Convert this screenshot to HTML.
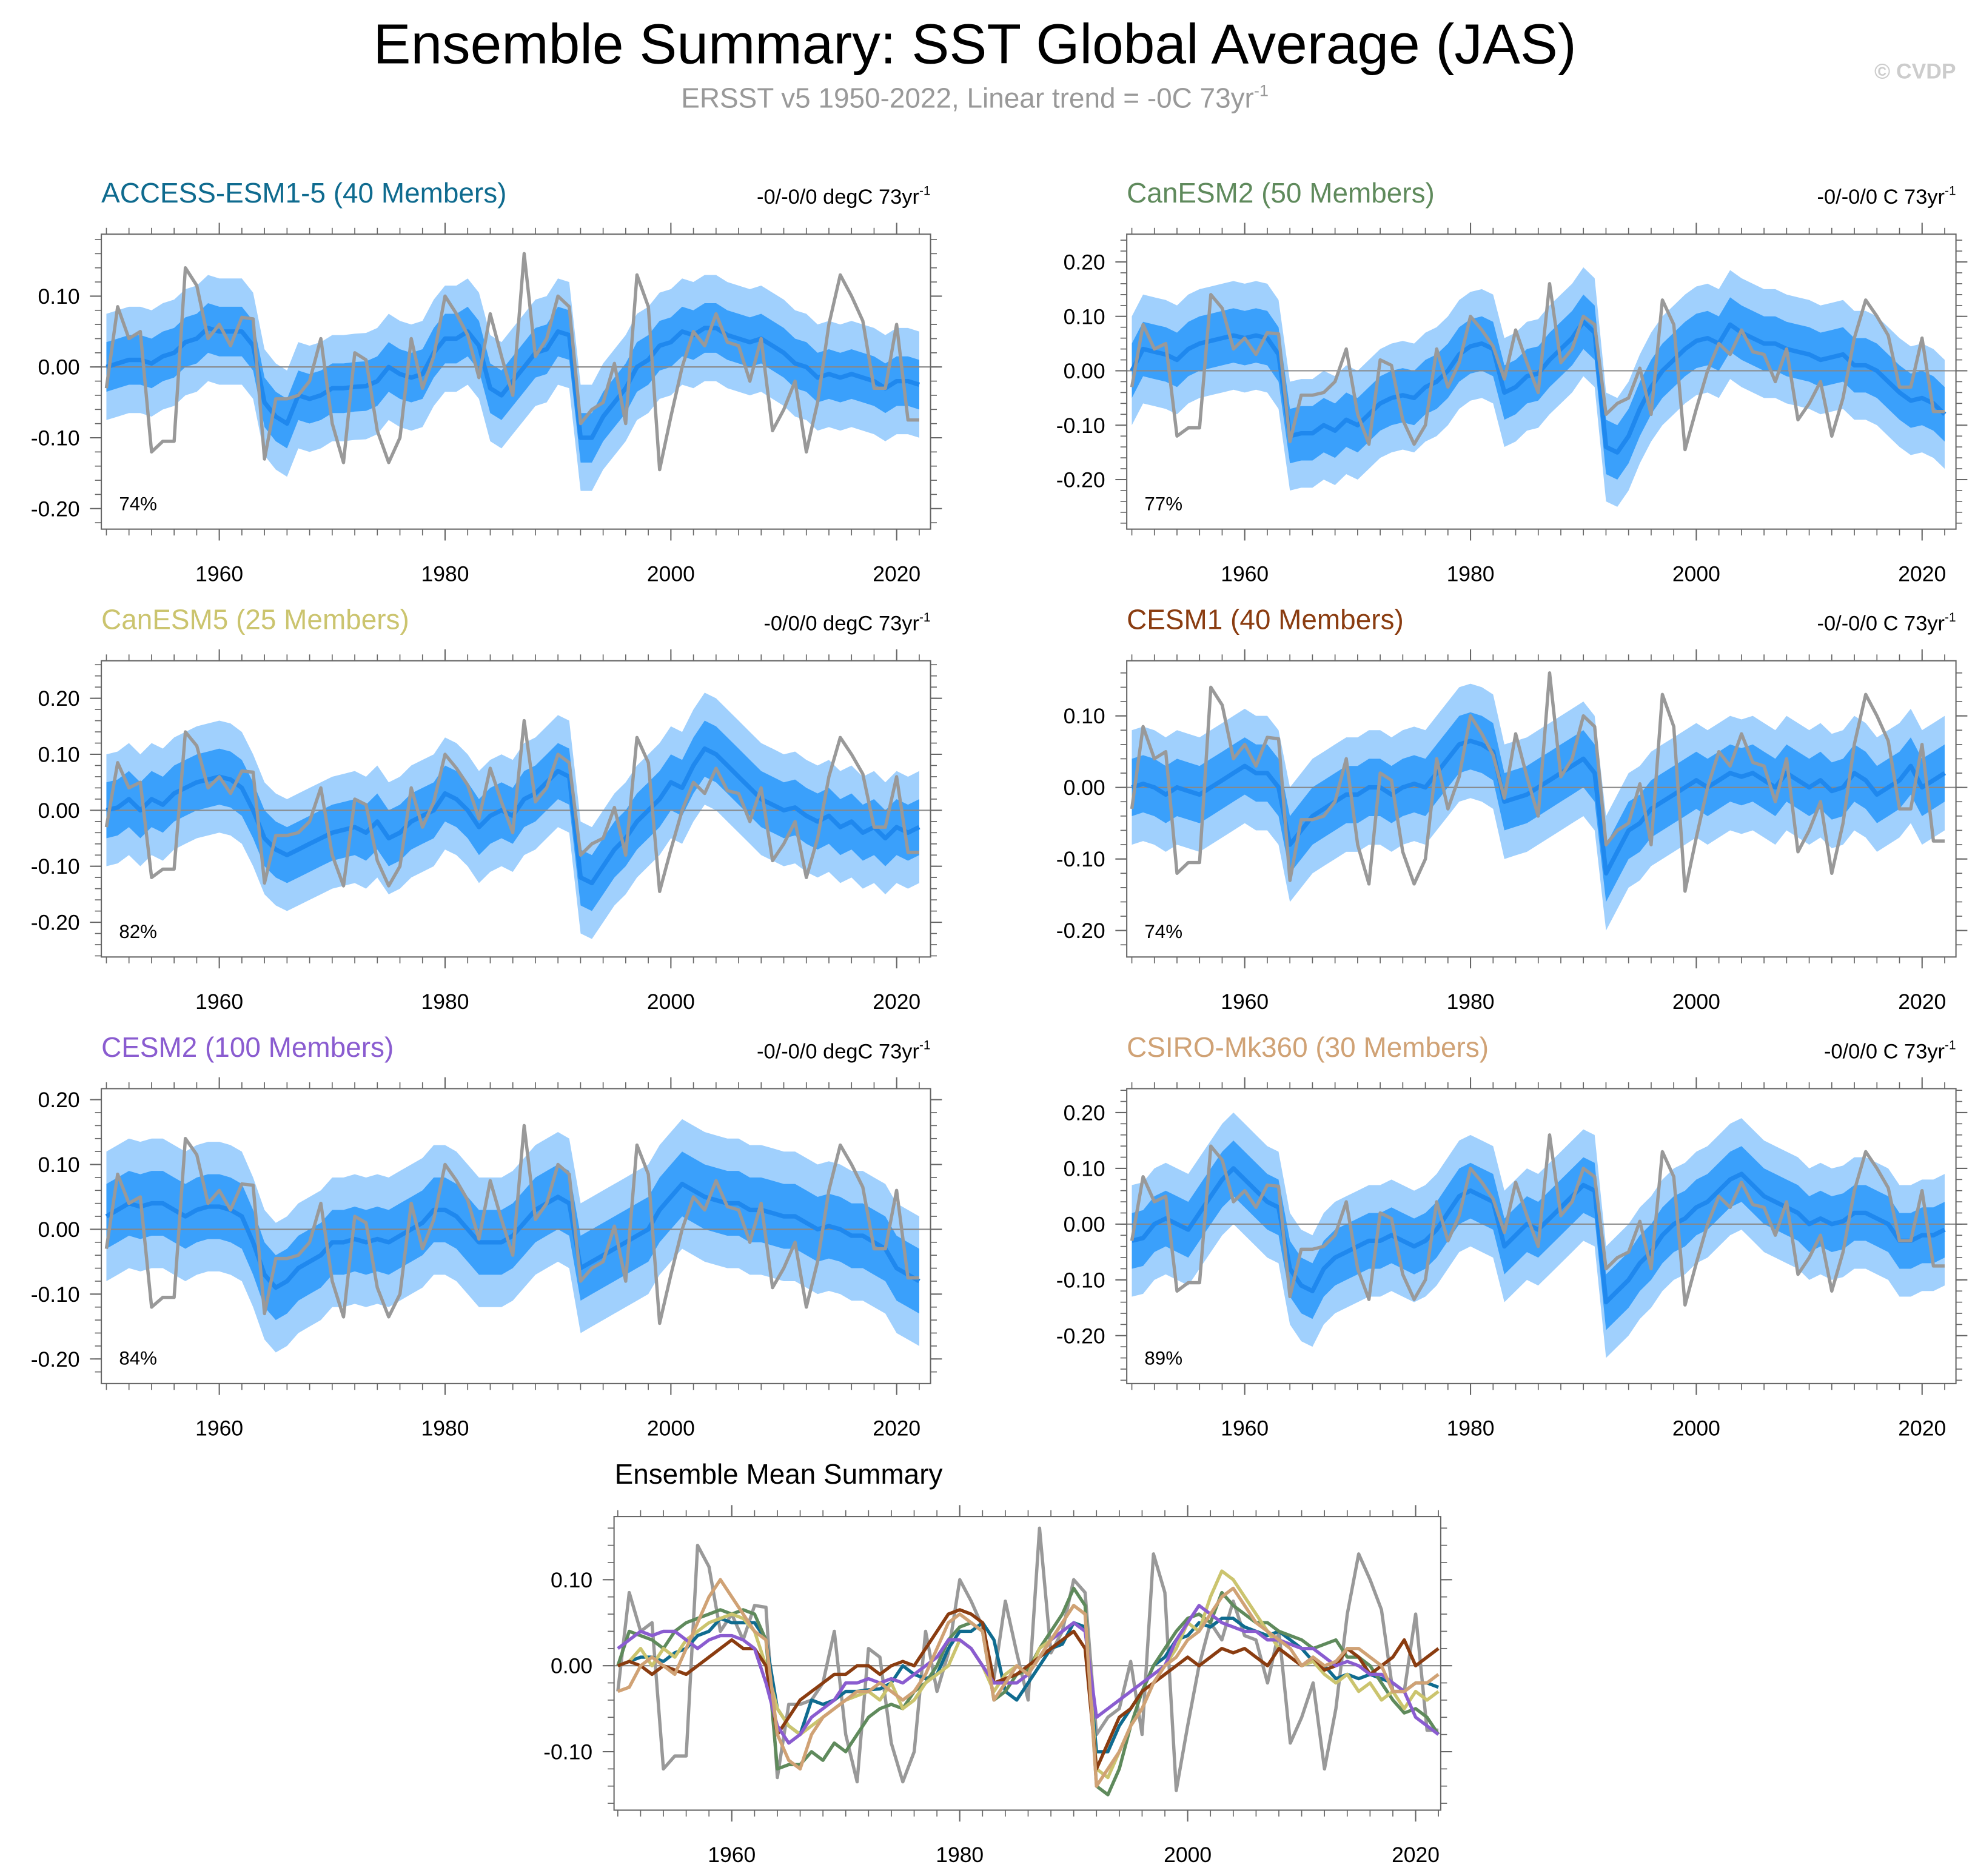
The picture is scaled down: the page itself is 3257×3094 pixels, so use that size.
<!DOCTYPE html>
<html><head><meta charset="utf-8"><style>
html,body{margin:0;padding:0;background:#fff}
svg{display:block}
text{font-family:"Liberation Sans",sans-serif}
</style></head><body>
<svg id="chart" width="3257" height="3094" viewBox="0 0 1560 1482" xmlns="http://www.w3.org/2000/svg">
<text x="770" y="50" font-size="44.5" text-anchor="middle">Ensemble Summary: SST Global Average (JAS)</text>
<text x="770" y="85" font-size="22" fill="#999" text-anchor="middle">ERSST v5 1950-2022, Linear trend = -0C 73yr<tspan font-size="13" dy="-9">-1</tspan></text>
<text x="1545" y="62" font-size="17" font-weight="bold" fill="#ccc" text-anchor="end">© CVDP</text>
<g id="plots"></g>
</svg>
<script>
const years = [];
for (let y = 1950; y <= 2022; y++) years.push(y);
const obs = [-0.03,0.085,0.04,0.05,-0.12,-0.105,-0.105,0.14,0.115,0.04,0.06,0.03,0.07,0.068,-0.13,-0.045,-0.045,-0.04,-0.02,0.04,-0.08,-0.135,0.02,0.01,-0.09,-0.135,-0.1,0.04,-0.03,0.015,0.1,0.075,0.045,-0.015,0.075,0.015,-0.04,0.16,0.015,0.04,0.1,0.085,-0.08,-0.06,-0.05,0.005,-0.08,0.13,0.085,-0.145,-0.07,0.0,0.05,0.03,0.075,0.035,0.03,-0.02,0.04,-0.09,-0.06,-0.02,-0.12,-0.05,0.06,0.13,0.1,0.065,-0.03,-0.03,0.06,-0.075,-0.075];
const accessMean = [0,0.005,0.01,0.01,0.005,0.015,0.02,0.035,0.04,0.055,0.05,0.05,0.05,0.03,-0.05,-0.07,-0.08,-0.04,-0.045,-0.04,-0.03,-0.03,-0.028,-0.027,-0.02,0,-0.01,-0.015,-0.01,0.02,0.04,0.04,0.05,0.03,-0.03,-0.04,-0.02,0,0.02,0.025,0.05,0.045,-0.1,-0.1,-0.07,-0.05,-0.03,0,0.01,0.03,0.035,0.05,0.045,0.055,0.055,0.045,0.04,0.035,0.04,0.03,0.02,0.005,0,-0.015,-0.01,-0.015,-0.01,-0.015,-0.02,-0.03,-0.02,-0.02,-0.025];
const canesm2Mean = [0.0,0.04,0.035,0.03,0.02,0.04,0.05,0.055,0.06,0.065,0.06,0.065,0.06,0.03,-0.12,-0.115,-0.115,-0.1,-0.11,-0.09,-0.1,-0.08,-0.06,-0.05,-0.045,-0.05,-0.03,-0.02,0.0,0.03,0.045,0.05,0.04,-0.04,-0.03,-0.01,-0.005,0.02,0.04,0.06,0.09,0.07,-0.14,-0.15,-0.12,-0.07,-0.03,0.0,0.02,0.04,0.055,0.06,0.05,0.085,0.07,0.06,0.05,0.05,0.04,0.035,0.03,0.02,0.025,0.03,0.01,0.01,0.0,-0.02,-0.04,-0.055,-0.05,-0.06,-0.08];
const canesm5Mean = [0,0.005,0.02,0.0,0.02,0.01,0.03,0.04,0.05,0.055,0.06,0.055,0.04,0.0,-0.05,-0.07,-0.08,-0.07,-0.06,-0.05,-0.04,-0.035,-0.03,-0.04,-0.02,-0.05,-0.04,-0.02,-0.01,0.0,0.03,0.02,0.0,-0.03,-0.01,0.0,-0.01,0.02,0.03,0.05,0.07,0.06,-0.12,-0.13,-0.1,-0.07,-0.05,-0.02,0.0,0.02,0.05,0.04,0.08,0.11,0.1,0.08,0.06,0.04,0.02,0.01,0.0,0.005,-0.01,-0.02,-0.01,-0.03,-0.02,-0.04,-0.03,-0.05,-0.03,-0.04,-0.03];
const cesm1Mean = [0.0,0.005,0.0,-0.01,0.0,-0.005,-0.01,0.0,0.01,0.02,0.03,0.02,0.02,0.0,-0.08,-0.06,-0.04,-0.03,-0.02,-0.01,-0.01,0.0,0.0,-0.01,0.0,0.005,0.0,0.02,0.04,0.06,0.065,0.06,0.05,-0.02,-0.015,-0.01,0.0,0.01,0.02,0.03,0.04,0.02,-0.12,-0.09,-0.06,-0.05,-0.03,-0.02,-0.01,0.0,0.01,0.0,0.01,0.02,0.015,0.02,0.01,0.0,0.02,0.01,0.0,0.01,-0.005,0.0,0.02,0.01,-0.01,0.0,0.01,0.03,0.0,0.01,0.02];
const cesm2Mean = [0.02,0.03,0.04,0.035,0.04,0.04,0.03,0.02,0.03,0.035,0.035,0.03,0.02,-0.02,-0.07,-0.09,-0.08,-0.06,-0.05,-0.04,-0.02,-0.02,-0.015,-0.02,-0.015,-0.02,-0.01,0.0,0.01,0.03,0.03,0.02,0.0,-0.02,-0.02,-0.02,-0.01,0.01,0.03,0.04,0.05,0.04,-0.06,-0.05,-0.04,-0.03,-0.02,-0.01,0.0,0.03,0.05,0.07,0.06,0.05,0.045,0.04,0.04,0.03,0.03,0.025,0.02,0.02,0.01,0.0,0.005,0.0,-0.01,-0.01,-0.02,-0.03,-0.06,-0.07,-0.08];
const csiroMean = [-0.03,-0.025,0.0,0.01,0.0,-0.01,0.02,0.05,0.08,0.1,0.08,0.06,0.04,0.03,-0.08,-0.11,-0.12,-0.08,-0.06,-0.05,-0.04,-0.03,-0.03,-0.02,-0.03,-0.04,-0.03,-0.01,0.02,0.05,0.06,0.05,0.04,-0.04,-0.02,0.0,-0.01,0.01,0.03,0.05,0.07,0.06,-0.14,-0.12,-0.1,-0.07,-0.05,-0.02,0.0,0.01,0.03,0.04,0.06,0.08,0.09,0.07,0.05,0.04,0.03,0.02,0.0,0.01,0.0,0.005,0.02,0.02,0.01,0.0,-0.03,-0.03,-0.02,-0.02,-0.01];
const innerSpread = [0.035,0.05,0.05,0.04,0.05,0.05];
const outerSpread = [0.075,0.1,0.1,0.08,0.1,0.1];
const modelNames = ["ACCESS-ESM1-5 (40 Members)","CanESM2 (50 Members)","CanESM5 (25 Members)","CESM1 (40 Members)","CESM2 (100 Members)","CSIRO-Mk360 (30 Members)"];
const modelColors = ["#0f6b8f","#5f8a5c","#cbc46e","#8a3c10","#8a5cd0","#d0a275"];
const trendLabels = ["-0/-0/0 degC 73yr","-0/-0/0 C 73yr","-0/0/0 degC 73yr","-0/-0/0 C 73yr","-0/-0/0 degC 73yr","-0/0/0 C 73yr"];
const pctLabels = ["74%","77%","82%","74%","84%","89%"];
const means = [accessMean,canesm2Mean,canesm5Mean,cesm1Mean,cesm2Mean,csiroMean];
const xTicks = [1960,1980,2000,2020];
const yTicksA = [0.1,0,-0.1,-0.2];
const yTicksB = [0.2,0.1,0,-0.1,-0.2];
const yTicksC = [0.1,0,-0.1];

const NS = "http://www.w3.org/2000/svg";
const root = document.getElementById("plots");
function mk(tag, attrs, parent, txt) {
  const e = document.createElementNS(NS, tag);
  for (const k in attrs) e.setAttribute(k, attrs[k]);
  if (txt !== undefined) e.textContent = txt;
  (parent || root).appendChild(e);
  return e;
}
function fmt(v){ return (v<0?"-":"")+Math.abs(v).toFixed(2); }

function frame(g, b, yt, sx, sy) {
  const zl = mk("line",{x1:b.x0,x2:b.x1,y1:sy(0),y2:sy(0),stroke:"#888","stroke-width":1},g);
  
  
  const r = mk("rect",{x:b.x0,y:b.y0,width:b.x1-b.x0,height:b.y1-b.y0,fill:"none",stroke:"#666","stroke-width":1},g);
  
  
  for (let v = Math.ceil(b.ymin/0.02)*0.02; v <= b.ymax; v += 0.02) {
    const y = sy(v);
    mk("line",{x1:b.x0-5,x2:b.x0,y1:y,y2:y,stroke:"#666","stroke-width":0.8},g);
    mk("line",{x1:b.x1,x2:b.x1+5,y1:y,y2:y,stroke:"#666","stroke-width":0.8},g);
  }
  yt.forEach(v => {
    const y = sy(v);
    mk("line",{x1:b.x0-9,x2:b.x0,y1:y,y2:y,stroke:"#666","stroke-width":1},g);
    mk("line",{x1:b.x1,x2:b.x1+9,y1:y,y2:y,stroke:"#666","stroke-width":1},g);
    const t = mk("text",{x:b.x0-17,y:y+6,"font-size":17,"text-anchor":"end"},g,fmt(v));
    
    
  });
  for (let yr = 1950; yr <= 2022; yr += 2) {
    const x = sx(yr);
    mk("line",{x1:x,x2:x,y1:b.y1,y2:b.y1+5,stroke:"#666","stroke-width":0.8},g);
    mk("line",{x1:x,x2:x,y1:b.y0-5,y2:b.y0,stroke:"#666","stroke-width":0.8},g);
  }
  xTicks.forEach(yr => {
    const x = sx(yr);
    mk("line",{x1:x,x2:x,y1:b.y1,y2:b.y1+9,stroke:"#666","stroke-width":1},g);
    mk("line",{x1:x,x2:x,y1:b.y0-9,y2:b.y0,stroke:"#666","stroke-width":1},g);
    const t = mk("text",{x:x,y:b.y1+41,"font-size":17,"text-anchor":"middle"},g,String(yr));
    
    
  });
}
function lineD(vals, sx, sy){ return vals.map((v,i)=>(i?"L":"M")+sx(years[i]).toFixed(1)+","+sy(v).toFixed(1)).join(""); }
function bandD(vals, s, sx, sy){
  let d = vals.map((v,i)=>(i?"L":"M")+sx(years[i]).toFixed(1)+","+sy(v+s).toFixed(1)).join("");
  for (let i = vals.length-1; i >= 0; i--) d += "L"+sx(years[i]).toFixed(1)+","+sy(vals[i]-s).toFixed(1);
  return d+"Z";
}

const panels = [
  {x0:80,x1:735,y0:185,y1:418,ymin:-0.229,ymax:0.1875,yt:yTicksA},
  {x0:890,x1:1545,y0:185,y1:418,ymin:-0.291,ymax:0.251,yt:yTicksB},
  {x0:80,x1:735,y0:522,y1:756,ymin:-0.262,ymax:0.267,yt:yTicksB},
  {x0:890,x1:1545,y0:522,y1:756,ymin:-0.237,ymax:0.177,yt:yTicksA},
  {x0:80,x1:735,y0:860,y1:1093,ymin:-0.238,ymax:0.217,yt:yTicksB},
  {x0:890,x1:1545,y0:860,y1:1093,ymin:-0.286,ymax:0.243,yt:yTicksB}
];
panels.forEach((b, k) => {
  const g = mk("g",{});
  
  
  const sx = yr => b.x0 + (yr-1949.55)/(2023-1949.55)*(b.x1-b.x0);
  const sy = v => b.y1 - (v-b.ymin)/(b.ymax-b.ymin)*(b.y1-b.y0);
  const o = mk("path",{d:bandD(means[k],outerSpread[k],sx,sy),fill:"#a0d0fd"},g);
  
  
  const inn = mk("path",{d:bandD(means[k],innerSpread[k],sx,sy),fill:"#3aa0fb"},g);
  
  
  frame(g, b, b.yt, sx, sy);
  const m = mk("path",{d:lineD(means[k],sx,sy),fill:"none",stroke:"#1f88ee","stroke-width":3.5,"stroke-linejoin":"round"},g);
  
  
  const ob = mk("path",{d:lineD(obs,sx,sy),fill:"none",stroke:"#999","stroke-width":2.6,"stroke-linejoin":"round"},g);
  
  
  const t = mk("text",{x:b.x0,y:b.y0-25,"font-size":22,fill:modelColors[k]},g,modelNames[k]);
  
  
  const tr = mk("text",{x:b.x1,y:b.y0-24,"font-size":16.5,"text-anchor":"end"},g);
  
  
  tr.textContent = trendLabels[k];
  mk("tspan",{"font-size":10,dy:-7},tr,"-1");
  const p = mk("text",{x:b.x0+14,y:b.y1-15,"font-size":15},g,pctLabels[k]);
  
  
});

(function(){
  const b = {x0:485,x1:1138,y0:1198,y1:1430,ymin:-0.168,ymax:0.1735};
  const g = mk("g",{});
  
  
  const sx = yr => b.x0 + (yr-1949.67)/(2022.2-1949.67)*(b.x1-b.x0);
  const sy = v => b.y1 - (v-b.ymin)/(b.ymax-b.ymin)*(b.y1-b.y0);
  frame(g, b, yTicksC, sx, sy);
  const ob = mk("path",{d:lineD(obs,sx,sy),fill:"none",stroke:"#999","stroke-width":2.6,"stroke-linejoin":"round"},g);
  
  
  means.forEach((m,k) => {
    const l = mk("path",{d:lineD(m,sx,sy),fill:"none",stroke:modelColors[k],"stroke-width":2.6,"stroke-linejoin":"round"},g);
    
    
  });
  const t = mk("text",{x:615,y:1172,"font-size":22,"text-anchor":"middle"},g,"Ensemble Mean Summary");
  
  
})();
</script>
</body></html>
